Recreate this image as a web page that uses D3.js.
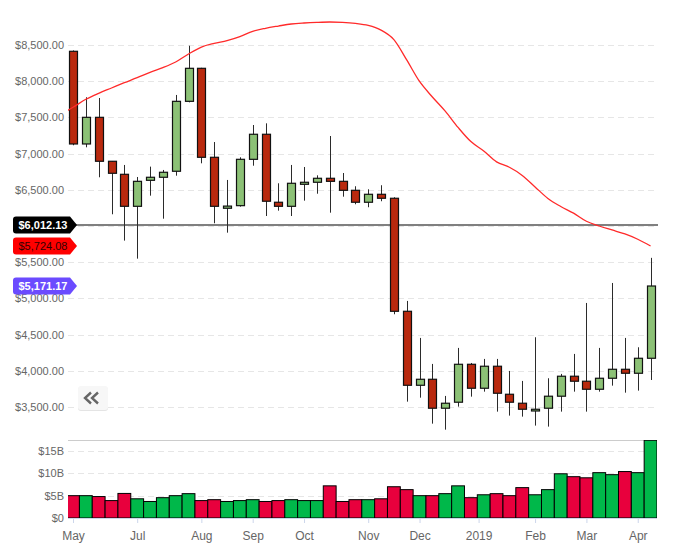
<!DOCTYPE html>
<html>
<head>
<meta charset="utf-8">
<script src="https://cdn.jsdelivr.net/npm/d3@7/dist/d3.min.js"></script>
<style>
  html, body { margin: 0; padding: 0; background: #fff; }
  svg { display: block; font-family: "Liberation Sans", Arial, Helvetica, sans-serif; }
</style>
</head>
<body>
<svg id="chart" width="674" height="556"></svg>
<script>
// ---------- DATA ----------
const weeks = d3.range(46).map(i => d3.timeFormat("%Y-%m-%d")(d3.timeDay.offset(new Date(2018, 4, 27), 7 * i)));
const open  = [8413,7133,7501,6894,6714,6272,6631,6673,6756,7722,8178,6949,6245,6281,6921,7267,6328,6272,6576,6604,6659,6617,6493,6328,6438,6383,4822,3800,3883,3483,3566,4090,3759,4063,3676,3552,3445,3483,3649,3925,3856,3745,3897,4021,3966,4173];
const high  = [8425,7778,7768,6894,6843,6677,6820,6774,7810,8490,8185,7160,6636,6949,7395,7418,6590,6843,6815,6700,7243,6732,6549,6507,6563,6397,4965,4454,4095,3653,4316,4108,4164,4164,3998,3860,4463,3897,3957,4233,4937,4316,5213,4454,4325,5560];
const low   = [7115,7087,6673,6162,5798,5549,6419,6101,6695,7708,6866,6038,5908,6267,6833,6138,6212,6138,6350,6446,6184,6405,6300,6259,6342,4781,3574,3629,3270,3187,3505,3643,3712,3436,3381,3367,3243,3229,3436,3712,3436,3712,3795,3698,3726,3873];
const close = [7133,7501,6894,6728,6272,6617,6673,6742,7722,8178,6949,6272,6275,6921,7267,6342,6272,6590,6604,6659,6617,6493,6328,6438,6383,4822,3800,3883,3483,3552,4090,3759,4063,3690,3566,3469,3469,3649,3925,3856,3745,3897,4021,3966,4173,5171.17];
const volumeB = [5.0,5.0,4.8,3.9,5.5,4.3,3.7,4.55,5.0,5.45,3.9,4.1,3.7,3.9,4.1,3.7,3.9,4.1,3.9,3.9,7.2,3.7,4.1,4.1,4.3,7.0,6.35,5.0,5.0,5.45,7.2,4.55,5.2,5.45,5.0,6.8,5.2,6.35,9.9,9.25,9.0,10.15,9.7,10.4,10.15,17.4];
// moving average, starting one week before the first visible candle
const maStart = -1;
const maValues = [7540,7640,7750,7833,7906,7979,8049,8123,8187,8265,8376,8472,8523,8560,8615,8689,8731,8762,8790,8804,8813,8818,8813,8799,8771,8706,8575,8294,7996,7782,7586,7362,7166,7036,6886,6811,6699,6540,6381,6270,6177,6066,6000,5945,5890,5817,5724.08];
const priceTicks = [3500,4000,4500,5000,5500,6000,6500,7000,7500,8000,8500];
const volumeTicks = [0,5,10,15];
const monthLabels = ["May","Jul","Aug","Sep","Oct","Nov","Dec","2019","Feb","Mar","Apr"];
const monthTickIndex = [0,5,10,14,18,23,27,31.6,36,40,44];
const refLine = 6012.13;
const lastMA = 5724.08;
const lastClose = 5171.17;

// ---------- LAYOUT ----------
const plotLeft = 68, plotRight = 657;
const svg = d3.select("#chart");

const x = d3.scaleLinear().domain([-0.39, 45.5]).range([plotLeft, plotRight]);
const y = d3.scaleLinear().domain([3500, 8500]).range([407, 45]);
const yv = d3.scaleLinear().domain([0, 15]).range([518, 451]);
const step = x(1) - x(0);

const priceFmt = d3.format("$,.2f");

// clip paths
const defs = svg.append("defs");
defs.append("clipPath").attr("id", "clipPrice").append("rect")
  .attr("x", plotLeft).attr("y", 10).attr("width", plotRight - plotLeft).attr("height", 430);
defs.append("clipPath").attr("id", "clipVol").append("rect")
  .attr("x", plotLeft).attr("y", 440).attr("width", plotRight - plotLeft).attr("height", 78);

// ---------- PRICE GRID + AXIS ----------
const gGrid = svg.append("g");
gGrid.selectAll("line.pg").data(priceTicks).join("line")
  .attr("x1", plotLeft).attr("x2", plotRight)
  .attr("y1", d => Math.round(y(d)) + 0.5).attr("y2", d => Math.round(y(d)) + 0.5)
  .attr("stroke", "#e6e6e6").attr("stroke-width", 1).attr("stroke-dasharray", "6,4");

const yAxis = d3.axisLeft(y).tickValues(priceTicks).tickFormat(priceFmt).tickSize(0).tickPadding(0);
const gy = svg.append("g").attr("transform", `translate(${plotLeft - 4},0)`).call(yAxis);
gy.select(".domain").remove();
gy.selectAll("text").attr("fill", "#666").attr("font-size", "11px");
// labels hidden beneath the price tags (as in the original, the tag covers them)
const tagValues = [refLine, lastMA, lastClose];
gy.selectAll(".tick").filter(d => tagValues.some(t => Math.abs(y(t) - y(d)) < 9)).select("text").remove();

// volume grid
svg.append("g").selectAll("line").data(volumeTicks.filter(d => d > 0)).join("line")
  .attr("x1", plotLeft).attr("x2", plotRight)
  .attr("y1", d => Math.round(yv(d)) + 0.5).attr("y2", d => Math.round(yv(d)) + 0.5)
  .attr("stroke", "#e6e6e6").attr("stroke-dasharray", "6,4");

const yvAxis = d3.axisLeft(yv).tickValues(volumeTicks).tickFormat(d => "$" + d + (d ? "B" : "")).tickSize(0).tickPadding(0);
const gyv = svg.append("g").attr("transform", `translate(${plotLeft - 4},0)`).call(yvAxis);
gyv.select(".domain").remove();
gyv.selectAll("text").attr("fill", "#666").attr("font-size", "11px");

// pane separator
svg.append("line").attr("x1", plotLeft).attr("x2", plotRight).attr("y1", 440.5).attr("y2", 440.5)
  .attr("stroke", "#cccccc");

// ---------- VOLUME ----------
const upColor = "#8cc176", downColor = "#b9290e";
const volUp = "#00b84a", volDown = "#e8003d";
svg.append("g").attr("clip-path", "url(#clipVol)")
  .selectAll("rect").data(volumeB).join("rect")
  .attr("x", (d, i) => x(i) - step / 2)
  .attr("width", step)
  .attr("y", d => yv(d))
  .attr("height", d => yv(0) - yv(d))
  .attr("fill", (d, i) => close[i] >= open[i] ? volUp : volDown)
  .attr("stroke", "#000").attr("stroke-width", 1);

// x axis
const xAxis = d3.axisBottom(x).tickValues(monthTickIndex)
  .tickFormat((d, i) => monthLabels[i]).tickSize(5).tickPadding(8);
const gx = svg.append("g").attr("transform", "translate(0,518)").call(xAxis);
gx.select(".domain").attr("stroke", "#ccd6eb").attr("d", `M${plotLeft},0.5H${plotRight}`);
gx.selectAll(".tick line").attr("stroke", "#ccd6eb");
gx.selectAll("text").attr("fill", "#666").attr("font-size", "12px");

// ---------- REFERENCE LINE ----------
svg.append("line").attr("x1", plotLeft).attr("x2", plotRight + 1)
  .attr("y1", y(refLine)).attr("y2", y(refLine))
  .attr("stroke", "#808080").attr("stroke-width", 2);

// ---------- CANDLES ----------
const gC = svg.append("g").attr("clip-path", "url(#clipPrice)");
const bodyW = 8;
const candles = gC.selectAll("g.c").data(d3.range(open.length)).join("g");
candles.append("line")
  .attr("x1", i => Math.round(x(i)) + 0.5).attr("x2", i => Math.round(x(i)) + 0.5)
  .attr("y1", i => y(high[i])).attr("y2", i => y(low[i]))
  .attr("stroke", "#2b2b2b").attr("stroke-width", 1);
candles.append("rect")
  .attr("x", i => Math.round(x(i)) - bodyW / 2 + 0.5)
  .attr("width", bodyW)
  .attr("y", i => y(Math.max(open[i], close[i])))
  .attr("height", i => Math.max(1, Math.abs(y(open[i]) - y(close[i]))))
  .attr("fill", i => close[i] >= open[i] ? upColor : downColor)
  .attr("stroke", "#111").attr("stroke-width", 1.2);

// ---------- MOVING AVERAGE ----------
const maLine = d3.line().x((d, i) => x(i + maStart)).y(d => y(d)).curve(d3.curveMonotoneX);
gC.append("path").datum(maValues).attr("d", maLine)
  .attr("fill", "none").attr("stroke", "#ff2a2a").attr("stroke-width", 1.3);

// ---------- PRICE TAGS ----------
function tag(value, fill, textFill, weight) {
  const cy = y(value);
  const l = 13, r = 70, tip = 77, h = 8.5, rad = 3;
  const p = `M${l + rad},${cy - h} L${r},${cy - h} L${tip},${cy} L${r},${cy + h} L${l + rad},${cy + h} Q${l},${cy + h} ${l},${cy + h - rad} L${l},${cy - h + rad} Q${l},${cy - h} ${l + rad},${cy - h} Z`;
  svg.append("path").attr("d", p).attr("fill", fill);
  svg.append("text").attr("x", 18.5).attr("y", cy).attr("dy", "0.36em")
    .attr("fill", textFill).attr("font-size", "11px").attr("font-weight", weight)
    .text(priceFmt(value));
}
tag(refLine, "#000000", "#ffffff", "bold");
tag(lastMA, "#ff0000", "#330000", "normal");
tag(lastClose, "#6b4bff", "#ffffff", "bold");

// ---------- NAV BUTTON ----------
const bx = 78, by = 386, bw = 30, bh = 24;
svg.append("rect").attr("x", bx).attr("y", by + 1).attr("width", bw).attr("height", bh).attr("rx", 3).attr("fill", "#e4e4e4");
svg.append("rect").attr("x", bx).attr("y", by).attr("width", bw).attr("height", bh).attr("rx", 3).attr("fill", "#f7f7f7");
[0, 7].forEach(o => {
  const cx = bx + 13 + o, cy = by + bh / 2;
  svg.append("path").attr("d", `M${cx},${cy - 5.5} L${cx - 6},${cy} L${cx},${cy + 5.5}`)
    .attr("fill", "none").attr("stroke", "#666").attr("stroke-width", 2.4);
});
</script>
</body>
</html>
